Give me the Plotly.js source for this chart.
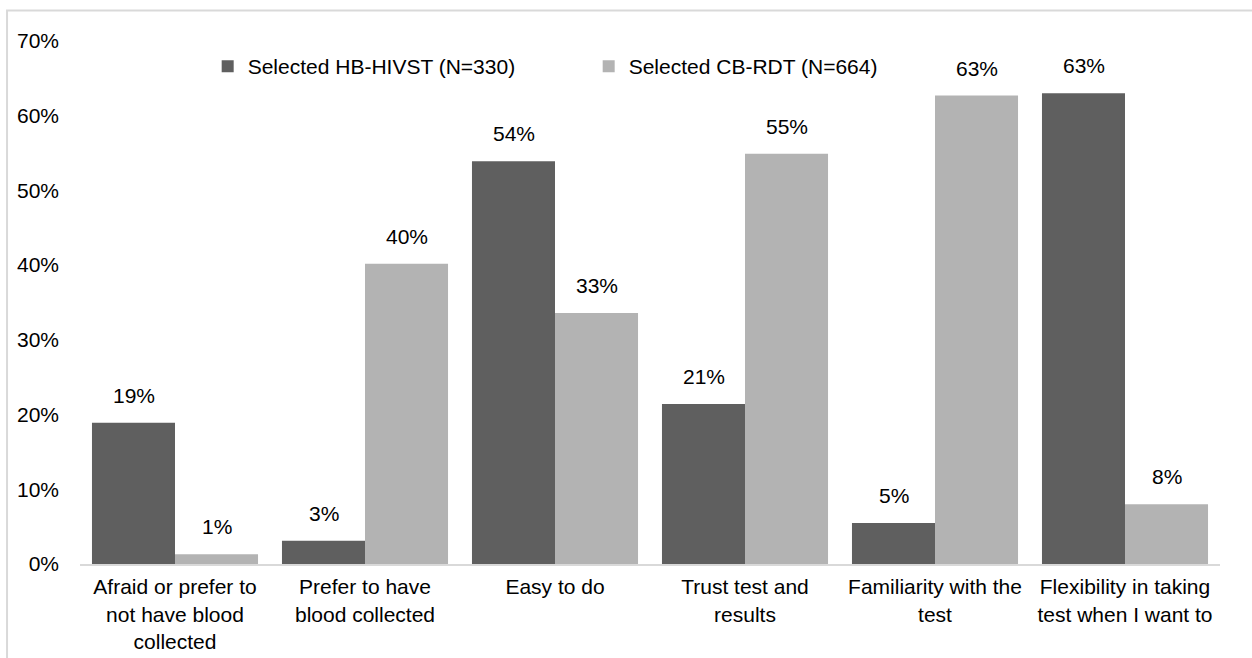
<!DOCTYPE html>
<html>
<head>
<meta charset="utf-8">
<script src="https://cdn.plot.ly/plotly-3.0.1.min.js"></script>
<style>html,body{margin:0;padding:0;background:#fff;}#chart{width:1252px;height:658px;}</style>
</head>
<body>
<div id="chart"></div>
<script>
const categories = [
  "Afraid or prefer to<br>not have blood<br>collected",
  "Prefer to have<br>blood collected",
  "Easy to do",
  "Trust test and<br>results",
  "Familiarity with the<br>test",
  "Flexibility in taking<br>test when I want to"
];
const seriesNames = ["Selected HB-HIVST (N=330)", "Selected CB-RDT (N=664)"];
const hbHivst = [18.9, 3.1, 53.9, 21.4, 5.5, 63.0];
const cbRdt = [1.3, 40.2, 33.6, 54.9, 62.7, 8.0];
const hbLabels = ["19%", "3%", "54%", "21%", "5%", "63%"];
const cbLabels = ["1%", "40%", "33%", "55%", "63%", "8%"];
const yTickVals = [0, 10, 20, 30, 40, 50, 60, 70];
const yTickText = ["0%", "10%", "20%", "30%", "40%", "50%", "60%", "70%"];

const FONT = "Liberation Sans, Arial, sans-serif";
const FS = 21;
const darkColor = "#5f5f5f";
const lightColor = "#b3b3b3";

const traces = [
  {type: "bar", name: seriesNames[0], x: categories, y: hbHivst,
   marker: {color: darkColor}, hoverinfo: "skip"},
  {type: "bar", name: seriesNames[1], x: categories, y: cbRdt,
   marker: {color: lightColor}, hoverinfo: "skip"}
];

const annotations = [];
const half = 41.5;
categories.forEach((c, i) => {
  annotations.push({x: c, y: hbHivst[i], xref: "x", yref: "y", text: hbLabels[i],
    showarrow: false, xshift: -half, yanchor: "bottom", yshift: 14,
    font: {family: FONT, size: FS, color: "#000"}});
  annotations.push({x: c, y: cbRdt[i], xref: "x", yref: "y", text: cbLabels[i],
    showarrow: false, xshift: half, yanchor: "bottom", yshift: 14,
    font: {family: FONT, size: FS, color: "#000"}});
});

const layout = {
  width: 1252, height: 658,
  margin: {l: 80, r: 32, t: 40.5, b: 94},
  paper_bgcolor: "#fff", plot_bgcolor: "#fff",
  font: {family: FONT, size: FS, color: "#000"},
  barmode: "group", bargap: 0.126, bargroupgap: 0,
  showlegend: true,
  legend: {orientation: "h", x: 0.112, xanchor: "left", y: 0.951, yanchor: "middle",
    entrywidth: 336, entrywidthmode: "pixels",
    font: {family: FONT, size: FS, color: "#000"}, bgcolor: "rgba(0,0,0,0)"},
  xaxis: {showline: true, linecolor: "#d9d9d9", linewidth: 2, ticks: "",
    showgrid: false, zeroline: false, ticklabelstandoff: 3,
    tickfont: {family: FONT, size: FS, color: "#000"}},
  yaxis: {range: [0, 70], tickmode: "array", tickvals: yTickVals, ticktext: yTickText,
    showgrid: false, zeroline: false, showline: false, ticks: "", ticklabelstandoff: 20,
    tickfont: {family: FONT, size: FS, color: "#000"}},
  annotations: annotations,
  shapes: [{type: "rect", xref: "paper", yref: "paper",
    x0: -0.064, x1: 1.04, y0: -0.25, y1: 1.0583,
    line: {color: "#d9d9d9", width: 2}, fillcolor: "rgba(0,0,0,0)", layer: "below"}]
};

Plotly.newPlot("chart", traces, layout, {displayModeBar: false, staticPlot: true});
</script>
</body>
</html>
